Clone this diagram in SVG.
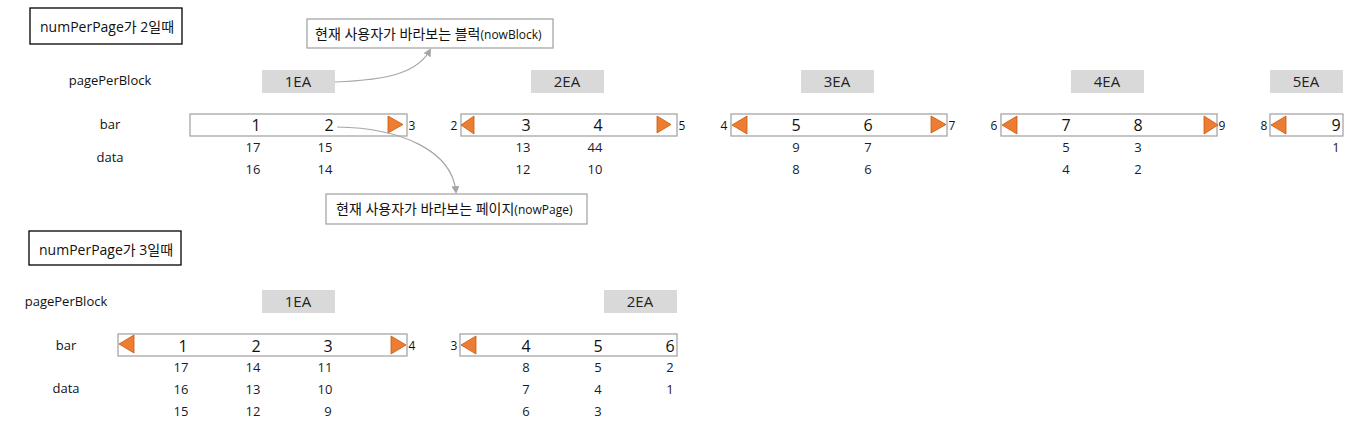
<svg xmlns="http://www.w3.org/2000/svg" width="1365" height="425" viewBox="0 0 1365 425">
<style>
text{font-family:"Open Sans","Noto Sans","Noto Sans CJK KR",sans-serif;fill:#111}
.title{fill:#fff;stroke:#000;stroke-width:1.3}
.t14{font-size:14px}
.lbl{font-size:13px;text-anchor:middle}
.ea{fill:#d9d9d9}
.eat{font-size:15px;text-anchor:middle;fill:#222}
.bar{fill:#fff;stroke:#a6a6a6;stroke-width:1.3}
.num{font-size:16px;text-anchor:middle}
.dat{font-size:13px;text-anchor:middle;fill:#1a1a2e}
.side{font-size:12px;text-anchor:middle}
.tri{fill:#ed7d31;stroke:#c55a11;stroke-width:0.8}
.call{fill:#fff;stroke:#a6a6a6;stroke-width:1.3}
.ko{font-size:14px}
.en{font-size:12px}
.conn{fill:none;stroke:#a6a6a6;stroke-width:1.2}
</style>
<defs>
<marker id="ah" markerWidth="8" markerHeight="8" refX="6" refY="4" orient="auto" markerUnits="userSpaceOnUse">
<path d="M0,0 L8,4 L0,8 Z" fill="#a6a6a6"/>
</marker>
</defs>

<!-- Section 1 -->
<g id="title1"><rect class="title" x="30" y="8" width="152" height="36"/><text class="t14" x="40" y="32">numPerPage가 2일때</text></g>
<g id="labels1">
<text class="lbl" x="110" y="85">pagePerBlock</text>
<text class="lbl" x="110" y="129">bar</text>
<text class="lbl" x="110" y="162">data</text>
</g>

<g id="ea1-1"><rect class="ea" x="262" y="70" width="73" height="23"/><text class="eat" x="298" y="87">1EA</text></g>
<g id="ea1-2"><rect class="ea" x="531" y="70" width="73" height="23"/><text class="eat" x="567" y="87">2EA</text></g>
<g id="ea1-3"><rect class="ea" x="801" y="70" width="73" height="23"/><text class="eat" x="837" y="87">3EA</text></g>
<g id="ea1-4"><rect class="ea" x="1071" y="70" width="73" height="23"/><text class="eat" x="1107" y="87">4EA</text></g>
<g id="ea1-5"><rect class="ea" x="1270" y="70" width="73" height="23"/><text class="eat" x="1306" y="87">5EA</text></g>

<g id="bar1-1">
<rect class="bar" x="190" y="114" width="217" height="22"/>
<text class="num" x="256" y="131">1</text><text class="num" x="329" y="131">2</text>
<path class="tri" d="M388,116 L388,133 L403,124.5 Z"/>
<text class="side" x="412" y="130">3</text>
<text class="dat" x="253" y="152">17</text><text class="dat" x="325" y="152">15</text>
<text class="dat" x="253" y="174">16</text><text class="dat" x="325" y="174">14</text>
</g>
<g id="bar1-2">
<rect class="bar" x="461" y="114" width="216" height="22"/>
<text class="side" x="454" y="130">2</text>
<path class="tri" d="M461,125 L474,116 L474,134 Z"/>
<text class="num" x="526" y="131">3</text><text class="num" x="598" y="131">4</text>
<path class="tri" d="M657,116 L657,133 L671,124.5 Z"/>
<text class="side" x="682" y="130">5</text>
<text class="dat" x="523" y="152">13</text><text class="dat" x="595" y="152">44</text>
<text class="dat" x="523" y="174">12</text><text class="dat" x="595" y="174">10</text>
</g>
<g id="bar1-3">
<rect class="bar" x="731" y="114" width="216" height="22"/>
<text class="side" x="724" y="130">4</text>
<path class="tri" d="M732,125 L747,116 L747,134 Z"/>
<text class="num" x="796" y="131">5</text><text class="num" x="868" y="131">6</text>
<path class="tri" d="M931,116 L931,133 L946,124.5 Z"/>
<text class="side" x="952" y="130">7</text>
<text class="dat" x="796" y="152">9</text><text class="dat" x="868" y="152">7</text>
<text class="dat" x="796" y="174">8</text><text class="dat" x="868" y="174">6</text>
</g>
<g id="bar1-4">
<rect class="bar" x="1001" y="114" width="216" height="22"/>
<text class="side" x="994" y="130">6</text>
<path class="tri" d="M1002,125 L1017,116 L1017,134 Z"/>
<text class="num" x="1066" y="131">7</text><text class="num" x="1138" y="131">8</text>
<path class="tri" d="M1204,116 L1204,134 L1218,125 Z"/>
<text class="side" x="1222" y="130">9</text>
<text class="dat" x="1066" y="152">5</text><text class="dat" x="1138" y="152">3</text>
<text class="dat" x="1066" y="174">4</text><text class="dat" x="1138" y="174">2</text>
</g>
<g id="bar1-5">
<rect class="bar" x="1270" y="114" width="73" height="22"/>
<text class="side" x="1264" y="130">8</text>
<path class="tri" d="M1271,125 L1286,116 L1286,134 Z"/>
<text class="num" x="1336" y="131">9</text>
<text class="dat" x="1336" y="152">1</text>
</g>

<g id="callout-block"><rect class="call" x="307" y="19" width="246" height="29"/><text x="315" y="39"><tspan class="ko">현재 사용자가 바라보는 블럭</tspan><tspan class="en">(nowBlock)</tspan></text></g>
<g id="callout-page"><rect class="call" x="326" y="194" width="261" height="30"/><text x="336" y="214"><tspan class="ko">현재 사용자가 바라보는 페이지</tspan><tspan class="en">(nowPage)</tspan></text></g>

<g id="connectors">
<path class="conn" d="M335,82 C390,80 418,72 430,50" marker-end="url(#ah)"/>
<path class="conn" d="M337,127 C400,128 452,150 456,192" marker-end="url(#ah)"/>
</g>

<!-- Section 2 -->
<g id="title2"><rect class="title" x="29" y="231" width="152" height="34"/><text class="t14" x="39" y="255">numPerPage가 3일때</text></g>
<g id="labels2">
<text class="lbl" x="66" y="306">pagePerBlock</text>
<text class="lbl" x="66" y="350">bar</text>
<text class="lbl" x="66" y="393">data</text>
</g>
<g id="ea2-1"><rect class="ea" x="262" y="290" width="73" height="23"/><text class="eat" x="298" y="307">1EA</text></g>
<g id="ea2-2"><rect class="ea" x="604" y="290" width="73" height="23"/><text class="eat" x="640" y="307">2EA</text></g>

<g id="bar2-1">
<rect class="bar" x="118" y="334" width="289" height="22"/>
<path class="tri" d="M119,344 L134,335 L134,353 Z"/>
<text class="num" x="183" y="352">1</text><text class="num" x="256" y="352">2</text><text class="num" x="328" y="352">3</text>
<path class="tri" d="M391,336 L391,354 L406,345 Z"/>
<text class="side" x="412" y="350">4</text>
<text class="dat" x="181" y="372">17</text><text class="dat" x="253" y="372">14</text><text class="dat" x="325" y="372">11</text>
<text class="dat" x="181" y="394">16</text><text class="dat" x="253" y="394">13</text><text class="dat" x="325" y="394">10</text>
<text class="dat" x="181" y="416">15</text><text class="dat" x="253" y="416">12</text><text class="dat" x="328" y="416">9</text>
</g>
<g id="bar2-2">
<rect class="bar" x="460" y="334" width="217" height="22"/>
<text class="side" x="454" y="350">3</text>
<path class="tri" d="M461,345 L476,336 L476,354 Z"/>
<text class="num" x="526" y="352">4</text><text class="num" x="598" y="352">5</text><text class="num" x="670" y="352">6</text>
<text class="dat" x="526" y="372">8</text><text class="dat" x="598" y="372">5</text><text class="dat" x="670" y="372">2</text>
<text class="dat" x="526" y="394">7</text><text class="dat" x="598" y="394">4</text><text class="dat" x="670" y="394">1</text>
<text class="dat" x="526" y="416">6</text><text class="dat" x="598" y="416">3</text>
</g>
</svg>
